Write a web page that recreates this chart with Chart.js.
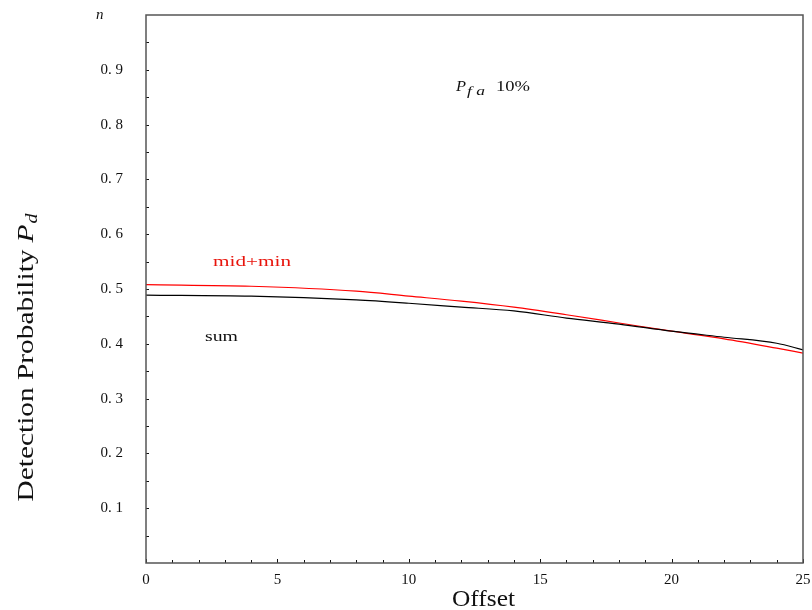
<!DOCTYPE html>
<html>
<head>
<meta charset="utf-8">
<script src="https://cdn.jsdelivr.net/npm/chart.js@4"></script>
<style>
  html, body { margin: 0; padding: 0; background: #fff; }
  #wrap { width: 812px; height: 610px; }
</style>
</head>
<body>
<div id="wrap"><canvas id="chart" width="812" height="610"></canvas></div>
<script>
// offsets where the curves were read
const offsets = [0, 4, 8, 10, 12, 14, 16, 18, 20, 22, 24, 25];
// detection probability, mid+min (red)
const midMin = [0.508, 0.505, 0.496, 0.487, 0.478, 0.467, 0.453, 0.438, 0.423, 0.409, 0.392, 0.383];
// detection probability, sum (black)
const sumPd = [0.489, 0.487, 0.480, 0.474, 0.467, 0.460, 0.447, 0.436, 0.423, 0.412, 0.401, 0.389];

const yTicks = [0.1, 0.2, 0.3, 0.4, 0.5, 0.6, 0.7, 0.8, 0.9];
const xTicks = [0, 5, 10, 15, 20, 25];

const serif = '"Liberation Serif", "DejaVu Serif", serif';

function pts(ys) {
  return offsets.map((x, i) => ({x: x, y: ys[i]}));
}

// write text stretched to a given width (the original uses a wide TeX font)
function wide(ctx, text, x, y, width) {
  const w = ctx.measureText(text).width;
  ctx.save();
  ctx.translate(x, y);
  ctx.scale(width / w, 1);
  ctx.fillText(text, 0, 0);
  ctx.restore();
}

// draws the frame, the inward ticks and the free text
const decor = {
  id: 'decor',
  afterDatasetsDraw(chart) {
    const ctx = chart.ctx;
    const a = chart.chartArea;
    const xs = chart.scales.x, ys = chart.scales.y;
    ctx.save();

    // ticks
    ctx.strokeStyle = '#111';
    ctx.lineWidth = 1;
    for (let v = 0; v <= 25; v++) {
      const px = Math.round(xs.getPixelForValue(v)) + 0.5;
      const len = v % 5 === 0 ? 4 : 3;
      ctx.beginPath();
      ctx.moveTo(px, a.bottom);
      ctx.lineTo(px, a.bottom - len);
      ctx.stroke();
    }
    for (let k = 1; k < 20; k++) {
      const py = Math.round(ys.getPixelForValue(k * 0.05)) + 0.5;
      ctx.beginPath();
      ctx.moveTo(a.left, py);
      ctx.lineTo(a.left + 3, py);
      ctx.stroke();
    }

    // frame
    ctx.strokeStyle = '#555';
    ctx.lineWidth = 1.5;
    ctx.strokeRect(a.left, a.top, a.right - a.left, a.bottom - a.top);

    // top label
    ctx.fillStyle = '#111';
    ctx.font = 'italic 15px ' + serif;
    ctx.textAlign = 'left';
    ctx.textBaseline = 'alphabetic';
    ctx.fillText('n', 96, ys.getPixelForValue(1) + 4);

    // P_fa 10%
    ctx.font = 'italic 15px ' + serif;
    wide(ctx, 'P', 456, 91, 10);
    ctx.font = 'italic 12px ' + serif;
    wide(ctx, 'f a', 467, 95, 18);
    ctx.font = '15px ' + serif;
    wide(ctx, '10%', 496, 91, 34);

    // series labels
    ctx.font = '15px ' + serif;
    ctx.fillStyle = '#e8140c';
    wide(ctx, 'mid+min', 213, 266, 78);
    ctx.fillStyle = '#111';
    wide(ctx, 'sum', 205, 341, 33);

    // axis titles
    ctx.font = '24px ' + serif;
    wide(ctx, 'Offset', 452, 606, 63);

    ctx.translate(33, 353);
    ctx.rotate(-Math.PI / 2);
    const x0 = -297 / 2;
    ctx.font = '23px ' + serif;
    wide(ctx, 'Detection Probability', x0, 0, 252);
    ctx.font = 'italic 24px ' + serif;
    wide(ctx, 'P', x0 + 259, 0, 18);
    ctx.font = 'italic 16px ' + serif;
    wide(ctx, 'd', x0 + 278, 4, 10);

    ctx.restore();
  }
};

new Chart(document.getElementById('chart'), {
  type: 'line',
  data: {
    datasets: [
      {
        label: 'sum',
        data: pts(sumPd),
        borderColor: '#000',
        borderWidth: 1.2,
        pointRadius: 0,
        cubicInterpolationMode: 'monotone'
      },
      {
        label: 'mid+min',
        data: pts(midMin),
        borderColor: '#f00',
        borderWidth: 1.2,
        pointRadius: 0,
        cubicInterpolationMode: 'monotone'
      }
    ]
  },
  options: {
    responsive: false,
    animation: false,
    layout: { padding: { top: 15, right: 9, left: 0, bottom: 0 } },
    plugins: {
      legend: { display: false },
      tooltip: { enabled: false }
    },
    scales: {
      x: {
        type: 'linear',
        min: 0,
        max: 25,
        grid: { display: false, drawTicks: false },
        border: { display: false },
        afterBuildTicks: (s) => { s.ticks = xTicks.map(v => ({value: v})); },
        afterFit: (s) => { s.height = 47; s.paddingLeft = 0; s.paddingRight = 0; },
        ticks: {
          padding: 8,
          color: '#111',
          font: { family: serif, size: 15 },
          maxRotation: 0,
          callback: (v) => String(v)
        }
      },
      y: {
        min: 0,
        max: 1,
        grid: { display: false, drawTicks: false },
        border: { display: false },
        afterBuildTicks: (s) => { s.ticks = yTicks.map(v => ({value: v})); },
        afterFit: (s) => { s.width = 146; s.paddingTop = 0; s.paddingBottom = 0; },
        ticks: {
          padding: 23,
          color: '#111',
          font: { family: serif, size: 15 },
          callback: (v) => v.toFixed(1).replace('.', '. ')
        }
      }
    }
  },
  plugins: [decor]
});
</script>
</body>
</html>
